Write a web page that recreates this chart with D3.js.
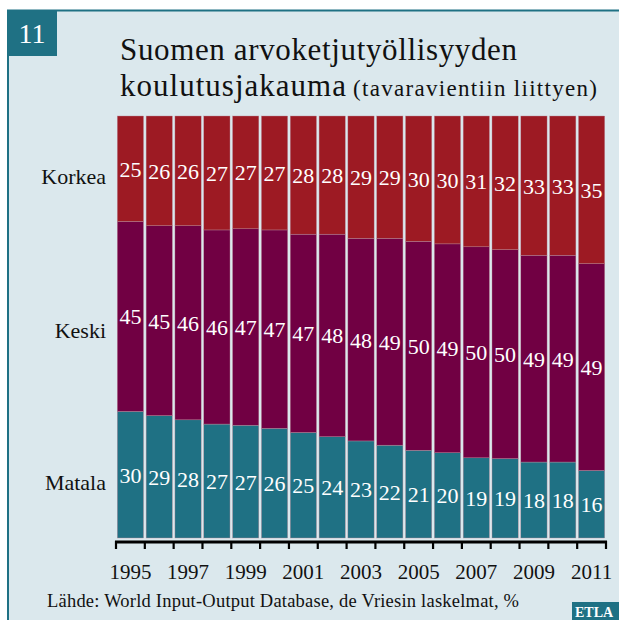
<!DOCTYPE html>
<html>
<head>
<meta charset="utf-8">
<script src="https://cdn.jsdelivr.net/npm/d3@7"></script>
<style>
  body { margin: 0; background: #fff; }
  svg { display: block; }
  svg text { font-family: "Liberation Serif", "Times New Roman", serif; }
</style>
</head>
<body>
<svg width="619" height="620" font-family="Liberation Serif, serif"></svg>
<script>
// data, %
var years = [1995, 1996, 1997, 1998, 1999, 2000, 2001, 2002, 2003, 2004, 2005, 2006, 2007, 2008, 2009, 2010, 2011];
var korkea = [25, 26, 26, 27, 27, 27, 28, 28, 29, 29, 30, 30, 31, 32, 33, 33, 35];
var keski  = [45, 45, 46, 46, 47, 47, 47, 48, 48, 49, 50, 49, 50, 50, 49, 49, 49];
var matala = [30, 29, 28, 27, 27, 26, 25, 24, 23, 22, 21, 20, 19, 19, 18, 18, 16];
var groups = ["Matala", "Keski", "Korkea"];
var tickYears = [1995, 1997, 1999, 2001, 2003, 2005, 2007, 2009, 2011];

var colors = { Korkea: "#9d1a23", Keski: "#710043", Matala: "#1f7184" };
var teal = "#1f7184";
var serif = "Liberation Serif, serif";

var svg = d3.select("svg");

// panel
svg.append("rect").attr("x", 7).attr("y", 10).attr("width", 612).attr("height", 610).attr("fill", "#dbe8ed");
svg.append("line").attr("x1", 7).attr("x2", 619).attr("y1", 10.5).attr("y2", 10.5).attr("stroke", teal).attr("stroke-width", 2);
svg.append("line").attr("x1", 8).attr("x2", 8).attr("y1", 10).attr("y2", 620).attr("stroke", teal).attr("stroke-width", 2);

// number box
svg.append("rect").attr("x", 7).attr("y", 10).attr("width", 50).attr("height", 46).attr("fill", teal);
svg.append("text").attr("x", 32).attr("y", 43).attr("text-anchor", "middle")
  .attr("font-family", serif).attr("fill", "#fff").attr("font-size", 28).text("11");

// title
svg.append("text").attr("x", 120).attr("y", 60).attr("font-family", serif)
  .attr("font-size", 31).attr("fill", "#111")
  .attr("textLength", 397).attr("lengthAdjust", "spacing")
  .text("Suomen arvoketjutyöllisyyden");
svg.append("text").attr("x", 120).attr("y", 96).attr("font-family", serif)
  .attr("font-size", 31).attr("fill", "#111")
  .attr("textLength", 226).attr("lengthAdjust", "spacing")
  .text("koulutusjakauma");
svg.append("text").attr("x", 353).attr("y", 96).attr("font-family", serif)
  .attr("font-size", 23).attr("fill", "#111")
  .attr("textLength", 244).attr("lengthAdjust", "spacing")
  .text("(tavaravientiin liittyen)");

// table for the stack
var rows = years.map(function(y, i) {
  var tot = korkea[i] + keski[i] + matala[i];
  return { year: y, Matala: matala[i] / tot, Keski: keski[i] / tot, Korkea: korkea[i] / tot,
           raw: { Matala: matala[i], Keski: keski[i], Korkea: korkea[i] } };
});
var series = d3.stack().keys(groups)(rows);

var x = d3.scaleBand().domain(years).range([116, 606]).paddingInner(0.09).paddingOuter(0.045);
var y = d3.scaleLinear().domain([0, 1]).range([538, 116]);

var layer = svg.append("g").selectAll("g").data(series).join("g")
  .attr("fill", function(d) { return colors[d.key]; });

layer.selectAll("rect").data(function(d) { return d.map(function(v) { v.key = d.key; return v; }); })
  .join("rect")
  .attr("x", function(d) { return x(d.data.year); })
  .attr("width", x.bandwidth())
  .attr("y", function(d) { return y(d[1]); })
  .attr("height", function(d) { return y(d[0]) - y(d[1]); })
  .attr("stroke", "#b98a9a").attr("stroke-width", 0.4);

layer.selectAll("text").data(function(d) { return d; })
  .join("text")
  .attr("x", function(d) { return x(d.data.year) + x.bandwidth() / 2; })
  .attr("y", function(d) { return (y(d[0]) + y(d[1])) / 2 + 8; })
  .attr("text-anchor", "middle")
  .attr("font-family", serif)
  .attr("fill", "#fff")
  .attr("font-size", 22)
  .text(function(d) { return d.data.raw[d.key]; });

// row labels on the left
var labelPos = [0.145, 0.51, 0.87];
svg.append("g").selectAll("text").data(["Korkea", "Keski", "Matala"]).join("text")
  .attr("x", 106)
  .attr("y", function(d, i) { return y(1 - labelPos[i]) + 7; })
  .attr("text-anchor", "end")
  .attr("font-family", serif)
  .attr("fill", "#111")
  .attr("font-size", 22)
  .text(function(d) { return d; });

// x axis: ticks at bar edges, labels under every other bar
var gap = x.step() * x.paddingInner();
var edges = years.map(function(yr) { return x(yr) - gap / 2; });
edges.push(x(years[years.length - 1]) + x.bandwidth() + gap / 2);

var axis = svg.append("g");
axis.append("line").attr("x1", edges[0] - 1).attr("x2", edges[edges.length - 1] + 1)
  .attr("y1", 542).attr("y2", 542).attr("stroke", "#000").attr("stroke-width", 3);
axis.selectAll("line.tick").data(edges).join("line").attr("class", "tick")
  .attr("x1", function(d) { return d; }).attr("x2", function(d) { return d; })
  .attr("y1", 541).attr("y2", 549).attr("stroke", "#000").attr("stroke-width", 2.2);

var xAxis = svg.append("g").attr("transform", "translate(0,564)")
  .call(d3.axisBottom(x).tickValues(tickYears).tickSize(0).tickPadding(0));
xAxis.select(".domain").remove();
xAxis.selectAll("text").attr("font-family", serif).attr("font-size", 21)
  .attr("fill", "#111").attr("dy", "0.71em");

// source
svg.append("text").attr("x", 47).attr("y", 607).attr("font-family", serif)
  .attr("font-size", 18.5).attr("fill", "#111")
  .attr("textLength", 472).attr("lengthAdjust", "spacing")
  .text("Lähde: World Input-Output Database, de Vriesin laskelmat, %");

// logo
svg.append("rect").attr("x", 572).attr("y", 602).attr("width", 47).attr("height", 18).attr("fill", teal);
svg.append("text").attr("x", 575).attr("y", 617).attr("font-family", serif).attr("font-size", 14)
  .attr("font-weight", "bold").attr("fill", "#fff").text("ETLA");
</script>
</body>
</html>
